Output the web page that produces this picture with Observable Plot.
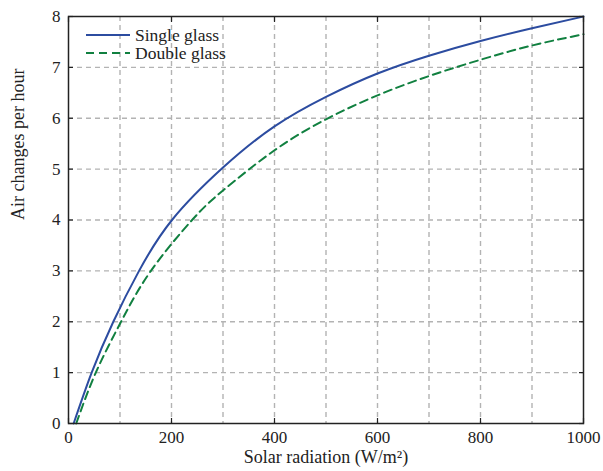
<!DOCTYPE html>
<html>
<head>
<meta charset="utf-8">
<script src="https://cdn.jsdelivr.net/npm/d3@7"></script>
<script src="https://cdn.jsdelivr.net/npm/@observablehq/plot@0.6"></script>
<style>
  html, body { margin: 0; padding: 0; background: white; }
  #wrap { position: relative; width: 603px; height: 471px; font-family: "Liberation Serif", "DejaVu Serif", serif; }
  #wrap svg, #wrap text { font-family: "Liberation Serif", "DejaVu Serif", serif !important; }
  #legend { position: absolute; left: 80px; top: 22px; }
</style>
</head>
<body>
<div id="wrap"></div>
<script>
// ---- data ----
const singleX = [10, 45, 87, 137, 201, 300, 400, 500, 600, 700, 800, 900, 1000];
const singleY = [0, 1, 2, 3, 4, 5.03, 5.84, 6.42, 6.88, 7.23, 7.52, 7.77, 8.0];
const doubleX = [15, 53, 102, 160, 240, 300, 400, 500, 600, 700, 800, 900, 1000];
const doubleY = [0, 1, 2, 3, 4, 4.58, 5.37, 5.98, 6.45, 6.83, 7.15, 7.43, 7.65];
const seriesNames = ["Single glass", "Double glass"];
const xTicks = [0, 200, 400, 600, 800, 1000];
const yTicks = [0, 1, 2, 3, 4, 5, 6, 7, 8];
const xGrid = [100, 200, 300, 400, 500, 600, 700, 800, 900];
const yGrid = [1, 2, 3, 4, 5, 6, 7];
const xLabel = "Solar radiation (W/m²)";
const yLabel = "Air changes per hour";

const blue = "#2c4ca0";
const green = "#118040";
const gridColor = "#b3b3b3";
const ink = "#222";
const font = "Liberation Serif, DejaVu Serif, serif";

const singleRows = singleX.map((x, i) => ({x, y: singleY[i]}));
const doubleRows = doubleX.map((x, i) => ({x, y: doubleY[i]}));

const chart = Plot.plot({
  width: 603,
  height: 471,
  marginLeft: 68,
  marginRight: 20,
  marginTop: 16,
  marginBottom: 48,
  x: {domain: [0, 1000]},
  y: {domain: [0, 8]},
  style: {fontFamily: font, fontSize: "17px", background: "white", color: ink},
  marks: [
    Plot.gridX(xGrid, {stroke: gridColor, strokeOpacity: 1, strokeWidth: 1.4, strokeDasharray: "5,4"}),
    Plot.gridY(yGrid, {stroke: gridColor, strokeOpacity: 1, strokeWidth: 1.4, strokeDasharray: "5,4"}),
    Plot.line(singleRows, {x: "x", y: "y", stroke: blue, strokeWidth: 2, curve: "natural"}),
    Plot.line(doubleRows, {x: "x", y: "y", stroke: green, strokeWidth: 2, strokeDasharray: "8,5", curve: "natural"}),
    Plot.frame({stroke: ink, strokeWidth: 1.5}),
    // tick labels
    Plot.axisX(xTicks, {anchor: "bottom", tickSize: 0, tickPadding: 7, label: null, fill: ink, tickFormat: d => String(d)}),
    Plot.axisY(yTicks, {anchor: "left", tickSize: 0, tickPadding: 8, label: null, fill: ink, tickFormat: d => String(d)}),
    // inward tick marks on all four sides (no text)
    Plot.axisX(xTicks, {anchor: "bottom", tickSize: 5, dy: -5, fill: "none", label: null, stroke: ink, strokeWidth: 1.2}),
    Plot.axisX(xTicks, {anchor: "top", tickSize: 5, dy: 5, fill: "none", label: null, stroke: ink, strokeWidth: 1.2}),
    Plot.axisY(yTicks, {anchor: "left", tickSize: 5, dx: 5, fill: "none", label: null, stroke: ink, strokeWidth: 1.2}),
    Plot.axisY(yTicks, {anchor: "right", tickSize: 5, dx: -5, fill: "none", label: null, stroke: ink, strokeWidth: 1.2}),
    // axis titles
    Plot.text([xLabel], {frameAnchor: "bottom", dy: 39, fontSize: 18, fill: ink}),
    Plot.text([yLabel], {frameAnchor: "left", dx: -50, rotate: -90, fontSize: 18, fill: ink})
  ]
});

const wrap = document.getElementById("wrap");
wrap.appendChild(chart);

// legend overlay
const leg = d3.select(wrap).append("svg")
  .attr("id", "legend")
  .attr("width", 180).attr("height", 46)
  .style("font-family", font);
const legendItems = [
  {name: seriesNames[0], color: blue, dash: null},
  {name: seriesNames[1], color: green, dash: "8,5"}
];
legendItems.forEach((d, i) => {
  const cy = 13 + i * 18;
  leg.append("line")
    .attr("x1", 6).attr("x2", 50).attr("y1", cy).attr("y2", cy)
    .attr("stroke", d.color).attr("stroke-width", 2)
    .attr("stroke-dasharray", d.dash);
  leg.append("text")
    .attr("x", 55).attr("y", cy + 5.5)
    .attr("font-size", 17.5).attr("fill", ink)
    .text(d.name);
});
</script>
</body>
</html>
